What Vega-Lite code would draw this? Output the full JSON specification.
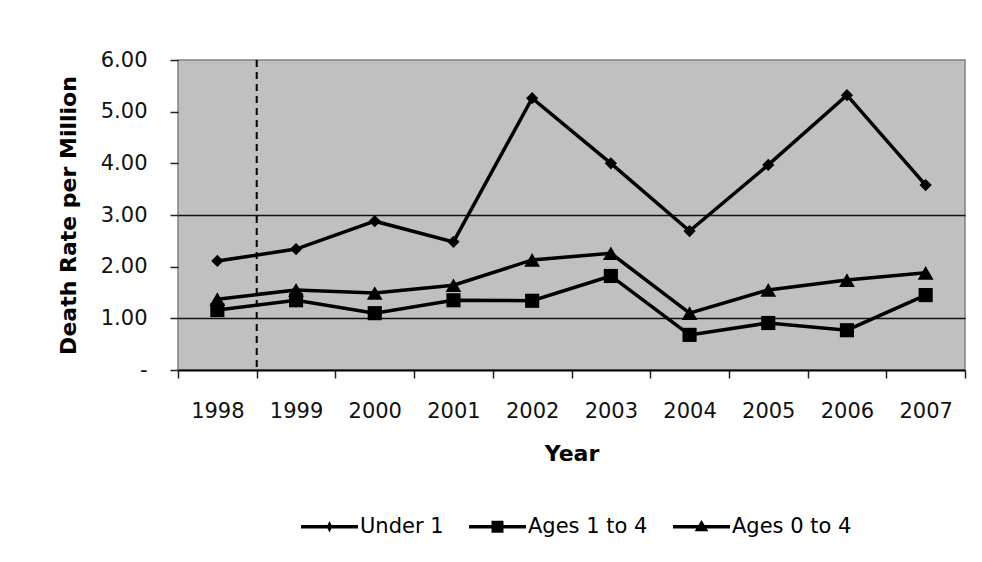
{
  "$schema": "https://vega.github.io/schema/vega-lite/v6.json",
  "width": 787,
  "height": 310,
  "autosize": {"type": "none"},
  "padding": {"left": 178, "top": 60, "right": 17, "bottom": 192},
  "background": "white",
  "config": {
    "font": "DejaVu Sans",
    "view": {"fill": "#c0c0c0", "stroke": "#808080", "strokeWidth": 1.5},
    "axis": {
      "labelFont": "DejaVu Sans",
      "titleFont": "DejaVu Sans",
      "labelFontSize": 21,
      "titleFontSize": 22,
      "titleFontWeight": "bold",
      "labelColor": "#111",
      "titleColor": "#000",
      "tickColor": "#222",
      "tickSize": 8,
      "tickWidth": 1.5
    }
  },
  "datasets": {
    "rates": [
      {"year": "1998", "series": "Under 1", "value": 2.11},
      {"year": "1999", "series": "Under 1", "value": 2.34},
      {"year": "2000", "series": "Under 1", "value": 2.88},
      {"year": "2001", "series": "Under 1", "value": 2.48},
      {"year": "2002", "series": "Under 1", "value": 5.26},
      {"year": "2003", "series": "Under 1", "value": 4.0},
      {"year": "2004", "series": "Under 1", "value": 2.69},
      {"year": "2005", "series": "Under 1", "value": 3.97},
      {"year": "2006", "series": "Under 1", "value": 5.32},
      {"year": "2007", "series": "Under 1", "value": 3.58},
      {"year": "1998", "series": "Ages 1 to 4", "value": 1.16},
      {"year": "1999", "series": "Ages 1 to 4", "value": 1.35},
      {"year": "2000", "series": "Ages 1 to 4", "value": 1.1},
      {"year": "2001", "series": "Ages 1 to 4", "value": 1.35},
      {"year": "2002", "series": "Ages 1 to 4", "value": 1.34},
      {"year": "2003", "series": "Ages 1 to 4", "value": 1.82},
      {"year": "2004", "series": "Ages 1 to 4", "value": 0.68},
      {"year": "2005", "series": "Ages 1 to 4", "value": 0.91},
      {"year": "2006", "series": "Ages 1 to 4", "value": 0.77},
      {"year": "2007", "series": "Ages 1 to 4", "value": 1.45},
      {"year": "1998", "series": "Ages 0 to 4", "value": 1.37},
      {"year": "1999", "series": "Ages 0 to 4", "value": 1.55},
      {"year": "2000", "series": "Ages 0 to 4", "value": 1.49},
      {"year": "2001", "series": "Ages 0 to 4", "value": 1.64},
      {"year": "2002", "series": "Ages 0 to 4", "value": 2.13},
      {"year": "2003", "series": "Ages 0 to 4", "value": 2.26},
      {"year": "2004", "series": "Ages 0 to 4", "value": 1.1},
      {"year": "2005", "series": "Ages 0 to 4", "value": 1.55},
      {"year": "2006", "series": "Ages 0 to 4", "value": 1.74},
      {"year": "2007", "series": "Ages 0 to 4", "value": 1.88}
    ],
    "marker": [{"year": "1998"}]
  },
  "layer": [
    {
      "data": {"name": "rates"},
      "mark": {"type": "line", "color": "black", "strokeWidth": 3.5},
      "encoding": {
        "x": {
          "field": "year",
          "type": "ordinal",
          "bandPosition": 0.5,
          "scale": {"type": "band", "paddingInner": 0, "paddingOuter": 0},
          "axis": {
            "title": "Year",
            "labelAngle": 0,
            "tickBand": "extent",
            "labelPadding": 22,
            "titlePadding": 22,
            "domainColor": "#000",
            "domainWidth": 2,
            "grid": false
          }
        },
        "y": {
          "field": "value",
          "type": "quantitative",
          "scale": {"domain": [0, 6], "nice": false},
          "axis": {
            "title": "Death Rate per Million",
            "values": [0, 1, 2, 3, 4, 5, 6],
            "labelExpr": "datum.value == 0 ? '-\u00a0\u00a0' : format(datum.value, '.2f')",
            "labelPadding": 23,
            "titlePadding": 20,
            "domain": false,
            "grid": true,
            "gridColor": "#111",
            "gridWidth": 1.5,
            "gridOpacity": {"condition": {"test": "datum.value == 1 || datum.value == 3", "value": 1}, "value": 0}
          }
        },
        "detail": {"field": "series", "type": "nominal"}
      }
    },
    {
      "data": {"name": "rates"},
      "mark": {"type": "point", "filled": true, "color": "black", "opacity": 1},
      "encoding": {
        "x": {"field": "year", "type": "ordinal", "bandPosition": 0.5},
        "y": {"field": "value", "type": "quantitative"},
        "shape": {
          "field": "series",
          "type": "nominal",
          "scale": {"domain": ["Under 1", "Ages 1 to 4", "Ages 0 to 4"], "range": ["diamond", "square", "triangle-up"]},
          "legend": null
        },
        "size": {
          "field": "series",
          "type": "nominal",
          "scale": {"domain": ["Under 1", "Ages 1 to 4", "Ages 0 to 4"], "range": [150, 250, 200]},
          "legend": null
        }
      }
    },
    {
      "data": {"name": "rates"},
      "mark": {"type": "point", "filled": true, "color": "black", "opacity": 0, "size": 3249},
      "encoding": {
        "x": {"field": "year", "type": "ordinal", "bandPosition": 0.5},
        "y": {"field": "value", "type": "quantitative"},
        "shape": {
          "field": "series",
          "type": "nominal",
          "scale": {
            "domain": ["Under 1", "Ages 1 to 4", "Ages 0 to 4"],
            "range": [
              "M-1,-0.065H1V0.065H-1ZM0,-0.2L0.1,0L0,0.2L-0.1,0Z",
              "M-1,-0.065H1V0.065H-1ZM-0.21,-0.21H0.21V0.21H-0.21Z",
              "M-1,-0.065H1V0.065H-1ZM0,-0.24L0.24,0.16H-0.24Z"
            ]
          },
          "legend": {
            "title": null,
            "orient": "none",
            "direction": "horizontal",
            "legendX": 123,
            "legendY": 438,
            "labelFont": "DejaVu Sans",
            "labelFontSize": 21,
            "labelColor": "#000",
            "labelOffset": 2,
            "columnPadding": 25,
            "symbolSize": 3249,
            "symbolStrokeWidth": 0,
            "symbolFillColor": "black",
            "symbolOpacity": 1,
            "encode": {
              "symbols": {
                "update": {
                  "opacity": {"value": 1},
                  "fillOpacity": {"value": 1},
                  "fill": {"value": "black"}
                }
              }
            }
          }
        }
      }
    },
    {
      "data": {"name": "marker"},
      "mark": {"type": "rule", "strokeDash": [7, 5], "strokeWidth": 2, "color": "black"},
      "encoding": {
        "x": {"field": "year", "type": "ordinal", "bandPosition": 1}
      }
    }
  ],
  "resolve": {"scale": {"shape": "independent", "size": "independent"}}
}
